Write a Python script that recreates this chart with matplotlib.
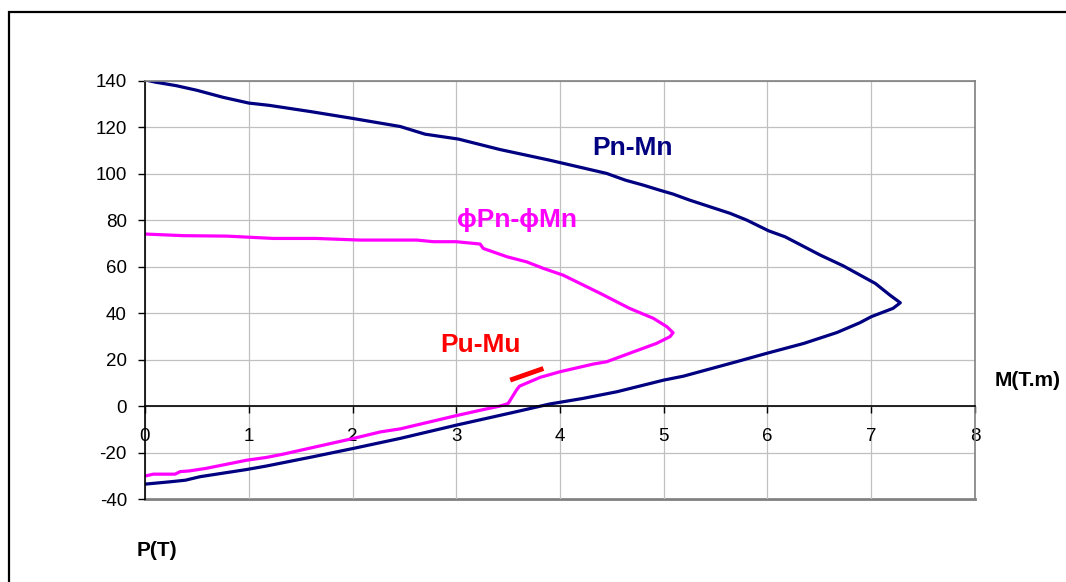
import matplotlib
matplotlib.use("Agg")
import matplotlib.pyplot as plt
from matplotlib.patches import Rectangle

# Pn-Mn interaction curve (nominal)
pn_m = [0.0, 0.1, 0.3, 0.5, 0.75, 1.0, 1.2, 1.6, 2.0, 2.46, 2.70, 3.02, 3.42, 3.90,
        4.45, 4.63, 4.80, 4.96, 5.09, 5.25, 5.64, 5.80, 6.01, 6.17, 6.51, 6.73, 7.04,
        7.18, 7.28, 7.21, 7.00, 6.89, 6.67, 6.35, 5.99, 5.70, 5.19, 5.00, 4.55, 4.22,
        3.90, 3.58, 3.00, 2.46, 2.01, 1.62, 1.17, 0.98, 0.53, 0.39, 0.24, 0.0]
pn_p = [140.5, 139.5, 138.0, 136.0, 133.0, 130.5, 129.5, 126.8, 123.9, 120.4, 117.1, 115.0,
        110.5, 105.9, 100.2, 97.3, 95.2, 93.0, 91.3, 88.7, 83.0, 80.1, 75.5, 72.9, 65.0,
        60.4, 52.8, 47.8, 44.5, 42.1, 38.5, 35.9, 31.7, 27.0, 22.7, 19.1, 12.9, 11.2,
        6.2, 3.3, 0.9, -2.4, -8.2, -13.9, -18.2, -21.8, -25.8, -27.3, -30.4, -31.9,
        -32.6, -33.6]

# phiPn-phiMn curve (design)
phi_m = [0.0, 0.37, 0.79, 1.24, 1.65, 2.07, 2.62, 2.78, 3.00, 3.16, 3.23, 3.26, 3.49,
         3.68, 3.84, 4.03, 4.39, 4.67, 4.90, 5.03, 5.09, 5.06, 4.93, 4.71, 4.45, 4.32,
         4.00, 3.81, 3.61, 3.58, 3.55, 3.50, 3.42, 3.26, 3.00, 2.46, 2.27, 2.01, 1.62,
         1.33, 1.17, 0.98, 0.59, 0.43, 0.34, 0.29, 0.08, 0.0]
phi_p = [74.1, 73.4, 73.2, 72.2, 72.2, 71.5, 71.5, 70.8, 70.8, 70.1, 69.8, 67.9, 64.3,
         62.1, 59.3, 56.4, 48.5, 42.1, 37.8, 34.2, 31.6, 29.9, 27.0, 23.4, 19.1, 18.1,
         14.8, 12.4, 8.6, 6.9, 4.7, 1.1, 0.0, -1.5, -4.1, -9.8, -11.1, -13.9, -17.8,
         -20.7, -22.1, -23.3, -26.8, -27.9, -28.2, -29.3, -29.3, -30.1]

# factored load Pu-Mu
pu_m = [3.52, 3.84]
pu_p = [11.2, 16.2]

x_ticks = [0, 1, 2, 3, 4, 5, 6, 7, 8]
y_ticks = [-40, -20, 0, 20, 40, 60, 80, 100, 120, 140]

plt.rcParams['font.family'] = ['Liberation Sans', 'DejaVu Sans']
plt.rcParams['axes.unicode_minus'] = False

fig = plt.figure(figsize=(10.66, 5.82), dpi=100)
W, H = 1066, 582

# outer chart frame
fig.patches.append(Rectangle((9 / W, -0.05), 1.2, 1 - 12 / H + 0.05,
                             transform=fig.transFigure, fill=False,
                             edgecolor='black', linewidth=1.6))

ax = fig.add_axes([145 / W, 1 - 499 / H, 830 / W, 418 / H])
ax.set_xlim(0, 8)
ax.set_ylim(-40, 140)
ax.set_xticks(x_ticks)
ax.set_yticks(y_ticks)
ax.grid(True, color='#c0c0c0', linewidth=0.9)
ax.set_axisbelow(True)

for side in ['top', 'right']:
    ax.spines[side].set_color('#808080')
    ax.spines[side].set_linewidth(1.2)
ax.spines['left'].set_color('black')
ax.spines['left'].set_linewidth(1.2)
ax.spines['bottom'].set_position(('data', 0))
ax.spines['bottom'].set_color('black')
ax.spines['bottom'].set_linewidth(1.2)
ax.axhline(-40, color='#808080', linewidth=2.0, clip_on=False, zorder=0)

ax.tick_params(axis='both', direction='out', length=5, width=1.0,
               labelsize=13.5, color='black')
ax.tick_params(axis='x', pad=11)
ax.tick_params(axis='y', pad=8)

ax.plot(pn_m, pn_p, color='#000080', linewidth=2.3, solid_joinstyle='round')
ax.plot(phi_m, phi_p, color='#ff00ff', linewidth=2.3, solid_joinstyle='round')
ax.plot(pu_m, pu_p, color='#ff0000', linewidth=3.5, solid_capstyle='butt')

# labels on the curves (bold)
ax.text(4.31, 111, 'Pn-Mn', color='#000080', fontsize=19, fontweight='bold',
        ha='left', va='center')
ax.text(3.01, 80, '\u03d5Pn-\u03d5Mn', color='#ff00ff', fontsize=19, fontweight='bold',
        ha='left', va='center')
ax.text(2.85, 26.3, 'Pu-Mu', color='#ff0000', fontsize=19, fontweight='bold',
        ha='left', va='center')

fig.text(995 / W, 1 - 380 / H, 'M(T.m)', fontsize=15, fontweight='bold',
         ha='left', va='center')
fig.text(137 / W, 1 - 551 / H, 'P(T)', fontsize=15, fontweight='bold',
         ha='left', va='center')

fig.savefig('out.png', dpi=100)
